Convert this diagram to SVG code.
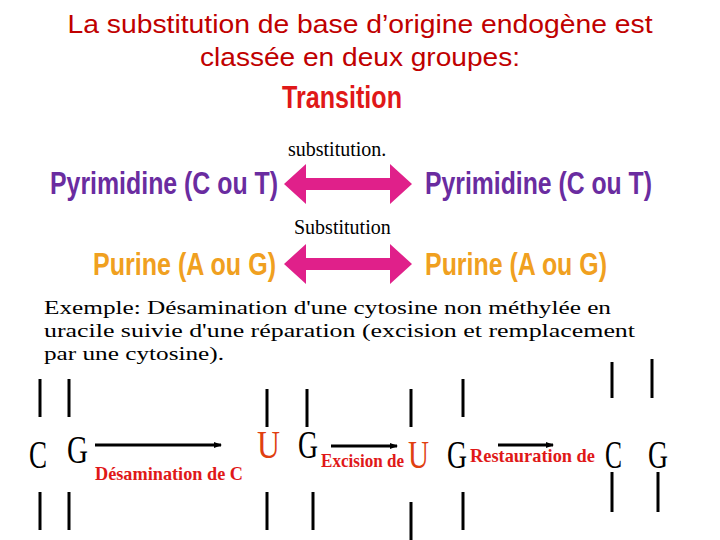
<svg xmlns="http://www.w3.org/2000/svg" width="720" height="540" viewBox="0 0 720 540">
<defs>
<marker id="ah" markerWidth="8" markerHeight="8" refX="7" refY="4" orient="auto" markerUnits="userSpaceOnUse"><path d="M0,1 L8,4 L0,7 Z" fill="#000"/></marker>
<style>
.t{font-family:"Liberation Sans",Arial,sans-serif;font-size:25px;fill:#c00000;text-anchor:middle}
.big{font-family:"Liberation Sans Narrow","Liberation Sans",Arial,sans-serif;font-weight:bold;font-size:31px}
.py{fill:#6a2ca0}
.pu{fill:#f0a020}
.s{font-family:"Liberation Serif",serif;font-size:20px;fill:#000}
.ex{font-family:"Liberation Serif",serif;font-size:19px;fill:#000}
.b{font-family:"Liberation Serif",serif;font-size:40px;fill:#000}
.u{font-family:"Liberation Serif",serif;font-size:40px;fill:#e04010}
.lab{font-family:"Liberation Serif",serif;font-weight:bold;font-size:19px;fill:#e01818}
.dbl{fill:#e0208a}
.v{stroke:#000;stroke-width:3}
.ar{stroke:#000;stroke-width:3;marker-end:url(#ah)}
</style>
</defs>
<g id="title">
<text class="t" x="360" y="33" textLength="585" lengthAdjust="spacingAndGlyphs">La substitution de base d’origine  endogène est</text>
<text class="t" x="360" y="66" textLength="320" lengthAdjust="spacingAndGlyphs">classée en deux groupes:</text>
</g>
<g id="transition"><text class="big" x="282" y="108" fill="#e01818" textLength="120" lengthAdjust="spacingAndGlyphs">Transition</text></g>
<g id="lab1"><text class="s" x="288" y="156">substitution.</text></g>
<g id="pyr-left"><text class="big py" x="50" y="194" textLength="228" lengthAdjust="spacingAndGlyphs">Pyrimidine (C ou T)</text></g>
<g id="pyr-right"><text class="big py" x="425" y="194" textLength="227" lengthAdjust="spacingAndGlyphs">Pyrimidine (C ou T)</text></g>
<g id="lab2"><text class="s" x="294" y="234">Substitution</text></g>
<g id="pur-left"><text class="big pu" x="93" y="275" textLength="183" lengthAdjust="spacingAndGlyphs">Purine (A ou G)</text></g>
<g id="pur-right"><text class="big pu" x="425" y="275" textLength="182" lengthAdjust="spacingAndGlyphs">Purine (A ou G)</text></g>
<g id="connectors">
<path class="dbl" d="M284,184 L306,164 L306,178 L390,178 L390,164 L412,184 L390,204 L390,190 L306,190 L306,204 Z"/>
<path class="dbl" d="M284,264 L306,244 L306,258 L390,258 L390,244 L412,264 L390,284 L390,270 L306,270 L306,284 Z"/>
<line class="ar" x1="95" y1="445" x2="221" y2="445"/>
<line class="ar" x1="331" y1="446" x2="397" y2="446"/>
<line class="ar" x1="498" y1="445" x2="553" y2="445"/>
</g>
<g id="example">
<text class="ex" x="44" y="314" textLength="567" lengthAdjust="spacingAndGlyphs">Exemple: Désamination d'une cytosine non méthylée en</text>
<text class="ex" x="44" y="337" textLength="591" lengthAdjust="spacingAndGlyphs">uracile suivie d'une réparation  (excision et remplacement</text>
<text class="ex" x="44" y="360" textLength="180" lengthAdjust="spacingAndGlyphs">par une cytosine).</text>
</g>
<g id="strands">
<line class="v" x1="40" y1="379" x2="40" y2="417"/><line class="v" x1="69" y1="379" x2="69" y2="417"/>
<line class="v" x1="40" y1="492" x2="40" y2="530"/><line class="v" x1="69" y1="492" x2="69" y2="530"/>
<line class="v" x1="267" y1="389" x2="267" y2="427"/><line class="v" x1="307" y1="389" x2="307" y2="427"/>
<line class="v" x1="267" y1="492" x2="267" y2="530"/><line class="v" x1="313" y1="492" x2="313" y2="530"/>
<line class="v" x1="411" y1="389" x2="411" y2="427"/><line class="v" x1="463" y1="379" x2="463" y2="417"/>
<line class="v" x1="411" y1="502" x2="411" y2="540"/><line class="v" x1="463" y1="492" x2="463" y2="530"/>
<line class="v" x1="612" y1="362" x2="612" y2="398"/><line class="v" x1="652" y1="359" x2="652" y2="398"/>
<line class="v" x1="612" y1="472" x2="612" y2="512"/><line class="v" x1="658" y1="472" x2="658" y2="512"/>
</g>
<g id="bases">
<text class="b" x="29" y="468" textLength="18" lengthAdjust="spacingAndGlyphs">C</text><text class="b" x="67" y="463" textLength="21" lengthAdjust="spacingAndGlyphs">G</text>
<text class="u" x="257" y="458" textLength="23" lengthAdjust="spacingAndGlyphs">U</text><text class="b" x="298" y="458" textLength="20" lengthAdjust="spacingAndGlyphs">G</text>
<text class="u" x="408" y="468" textLength="21" lengthAdjust="spacingAndGlyphs">U</text><text class="b" x="447" y="468" textLength="20" lengthAdjust="spacingAndGlyphs">G</text>
<text class="b" x="605" y="468" textLength="17" lengthAdjust="spacingAndGlyphs">C</text><text class="b" x="648" y="468" textLength="20" lengthAdjust="spacingAndGlyphs">G</text>
</g>
<g id="labels">
<text class="lab" x="95" y="480" textLength="148" lengthAdjust="spacingAndGlyphs">Désamination de C</text>
<text class="lab" x="321" y="467" font-size="17" textLength="83" lengthAdjust="spacingAndGlyphs">Excision de</text>
<text class="lab" x="470" y="462" textLength="125" lengthAdjust="spacingAndGlyphs">Restauration de</text>
</g>
</svg>
